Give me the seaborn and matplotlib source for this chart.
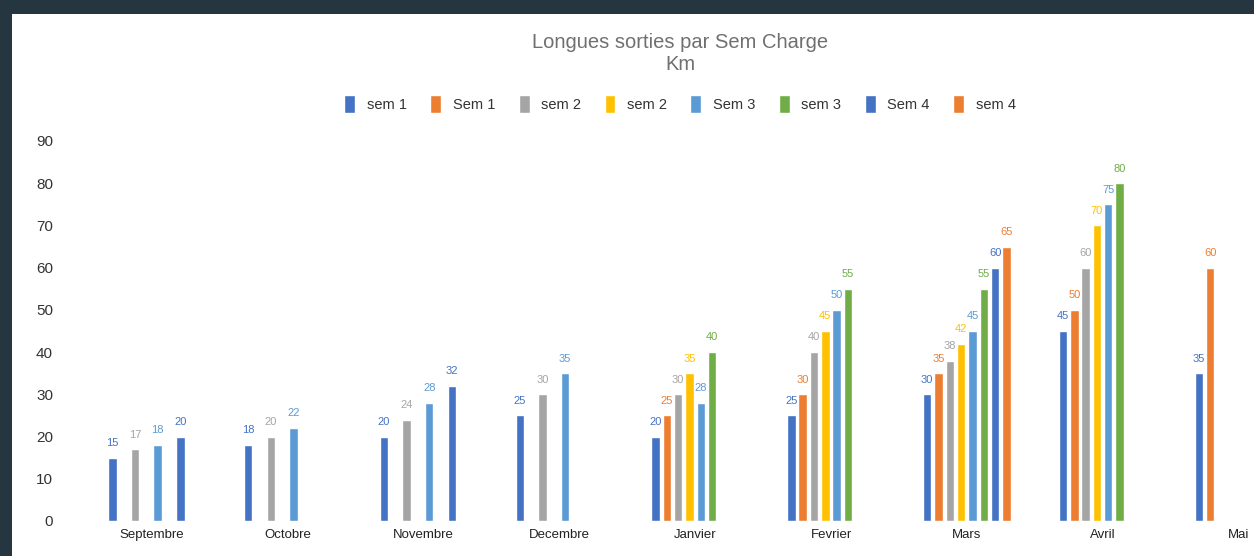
import pandas as pd
import seaborn as sns
import matplotlib.pyplot as plt
from matplotlib.patches import Rectangle

# données (None = pas de sortie)
mois = ["Septembre", "Octobre", "Novembre", "Decembre", "Janvier",
        "Fevrier", "Mars", "Avril", "Mai"]
series = ["sem 1", "Sem 1", "sem 2", "sem 2 ", "Sem 3", "sem 3", "Sem 4", "sem 4"]
legende = ["sem 1", "Sem 1", "sem 2", "sem 2", "Sem 3", "sem 3", "Sem 4", "sem 4"]
couleurs = ["#4472C4", "#ED7D31", "#A5A5A5", "#FFC000",
            "#5B9BD5", "#70AD47", "#4472C4", "#ED7D31"]

sem1_a = [15, 18, 20, 25, 20, 25, 30, 45, 35]
sem1_b = [None, None, None, None, 25, 30, 35, 50, 60]
sem2_a = [17, 20, 24, 30, 30, 40, 38, 60, None]
sem2_b = [None, None, None, None, 35, 45, 42, 70, None]
sem3_a = [18, 22, 28, 35, 28, 50, 45, 75, None]
sem3_b = [None, None, None, None, 40, 55, 55, 80, None]
sem4_a = [20, None, 32, None, None, None, 60, None, None]
sem4_b = [None, None, None, None, None, None, 65, None, None]

valeurs = [sem1_a, sem1_b, sem2_a, sem2_b, sem3_a, sem3_b, sem4_a, sem4_b]

rows = []
for s, vals in zip(series, valeurs):
    for m, v in zip(mois, vals):
        if v is not None:
            rows.append({"Mois": m, "Serie": s, "Km": v})
df = pd.DataFrame(rows)

sns.set_style("white")
plt.rcParams["font.family"] = ["Liberation Sans", "DejaVu Sans"]

W, H = 1254, 556
fig = plt.figure(figsize=(W / 100, H / 100), dpi=100)
fig.patch.set_facecolor("#263641")
# panneau blanc
fig.patches.append(Rectangle((12 / W, 0), 1, 1 - 14 / H, transform=fig.transFigure,
                             facecolor="white", edgecolor="none", zorder=-1))

ax = fig.add_axes([60 / W, 35 / H, (W - 60) / W, 380 / H])
ax.set_facecolor("none")

sns.barplot(data=df, x="Mois", y="Km", hue="Serie", order=mois, hue_order=series,
            palette=couleurs, saturation=1, width=0.666, gap=0.25, dodge=True, ax=ax,
            legend=True, errorbar=None)

for cont, c in zip(ax.containers, couleurs):
    ax.bar_label(cont, fmt="{:.0f}", color=c, fontsize=8, padding=7)

ax.set_xlim((60 - 152) / 135.8, (W - 152) / 135.8)
ax.set_ylim(0, 90)
ax.set_yticks(range(0, 91, 10))
ax.set_xlabel("")
ax.set_ylabel("")
ax.tick_params(axis="y", length=0, pad=5, labelsize=11, labelcolor="#333333")
ax.tick_params(axis="x", length=0, pad=6, labelsize=9.5, labelcolor="#222222")
sns.despine(ax=ax, left=True, bottom=True)

handles, _ = ax.get_legend_handles_labels()
ax.get_legend().remove()
fig.legend(handles, legende, loc="center", bbox_to_anchor=(680 / W, 1 - 104 / H),
           ncol=8, frameon=False, fontsize=10.5, handlelength=0.75, handleheight=1.5,
           handletextpad=0.8, columnspacing=1.6, labelcolor="#333333")

fig.text(680 / W, 1 - 42 / H, "Longues sorties par Sem Charge", ha="center", va="center",
         fontsize=14.5, color="#707070")
fig.text(680 / W, 1 - 65 / H, "Km", ha="center", va="center",
         fontsize=14.5, color="#707070")

fig.savefig("out.png", dpi=100, facecolor=fig.get_facecolor())
